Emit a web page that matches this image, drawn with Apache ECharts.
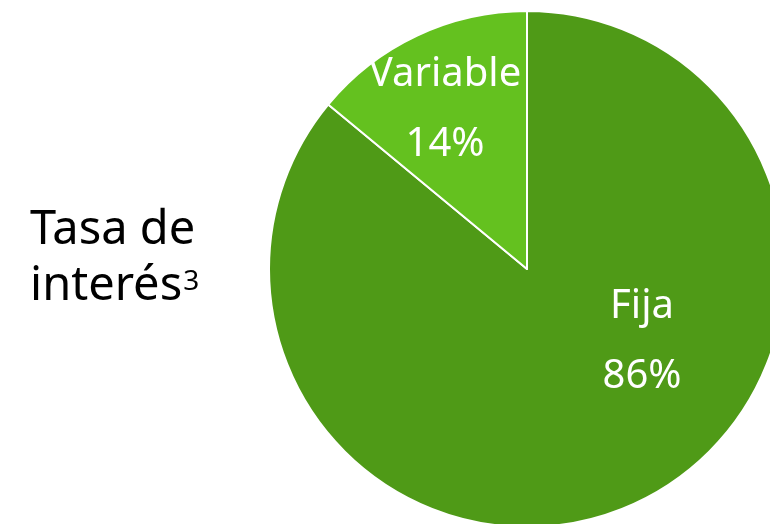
<!DOCTYPE html>
<html>
<head>
<meta charset="utf-8">
<script src="https://cdn.jsdelivr.net/npm/echarts@6/dist/echarts.min.js"></script>
<style>
  html, body { margin: 0; padding: 0; background: #fff; }
  #main { width: 770px; height: 524px; }
</style>
</head>
<body>
<div id="main"></div>
<script>
// datos del gráfico
const categories = ['Fija', 'Variable']
const values = [86, 14]
const colors = ['#4f9a17', '#64c11f']
// posición de cada etiqueta (centro del texto)
const labelPos = [[642, 342], [445, 110]]

const chart = echarts.init(document.getElementById('main'))

const option = {
  animation: false,
  title: {
    left: 30,
    top: 203,
    padding: 0,
    text: '{a|Tasa de}\n{a|interés}{s|3}',
    textStyle: {
      fontWeight: 'normal',
      rich: {
        a: { fontFamily: 'Noto Sans', fontSize: 47, fontWeight: 'normal', color: '#000', lineHeight: 56 },
        s: { fontFamily: 'Noto Sans', fontSize: 28, fontWeight: 'normal', color: '#000', lineHeight: 56, verticalAlign: 'top', padding: [9, 0, 0, 1] }
      }
    }
  },
  series: [{
    type: 'pie',
    center: [527, 269],
    radius: 258,
    startAngle: 90,
    clockwise: true,
    itemStyle: { borderColor: '#fff', borderWidth: 2 },
    label: {
      show: true,
      position: 'inside',
      formatter: '{b}\n{d}%',
      color: '#fff',
      fontFamily: 'Noto Sans',
      fontSize: 40,
      lineHeight: 70
    },
    labelLayout: params => ({
      x: labelPos[params.dataIndex][0],
      y: labelPos[params.dataIndex][1],
      align: 'center',
      verticalAlign: 'middle'
    }),
    emphasis: { disabled: true },
    data: categories.map((name, i) => ({
      name: name,
      value: values[i],
      itemStyle: { color: colors[i] }
    }))
  }]
}

chart.setOption(option)
</script>
</body>
</html>
